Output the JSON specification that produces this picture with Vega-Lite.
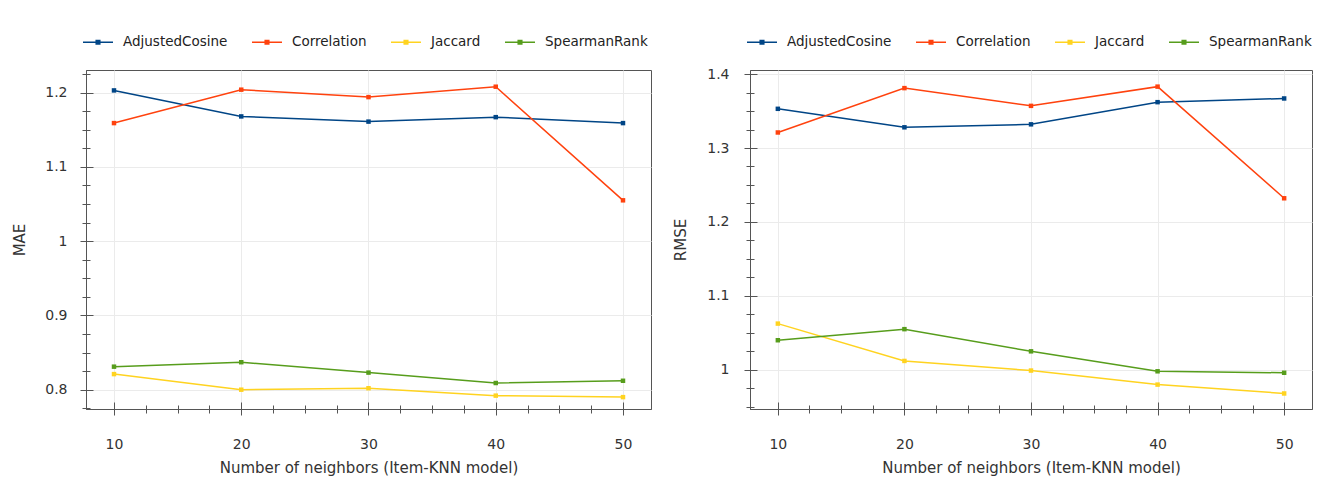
{
  "$schema": "https://vega.github.io/schema/vega-lite/v6.json",
  "padding": {"left": 12, "top": 25, "right": 8, "bottom": 4},
  "background": "white",
  "config": {
    "font": "DejaVu Sans",
    "view": {"stroke": "#555555", "strokeWidth": 1},
    "axis": {
      "labelFont": "DejaVu Sans", "labelFontSize": 14, "labelColor": "#333333",
      "titleFont": "DejaVu Sans", "titleFontSize": 15, "titleFontWeight": "normal", "titleColor": "#333333",
      "domainColor": "#555555", "tickColor": "#555555", "gridColor": "#ebebeb", "gridWidth": 1
    },
    "legend": {
      "orient": "none", "direction": "horizontal", "legendX": -4, "legendY": -44, "title": null,
      "symbolType": "M-1,0H1M-0.12,-0.12H0.12V0.12H-0.12Z", "symbolSize": 900, "symbolStrokeWidth": 1.5,
      "labelFont": "DejaVu Sans", "labelFontSize": 13.5, "labelColor": "#222222",
      "columnPadding": 21, "labelOffset": 9
    }
  },
  "datasets": {
    "mae": [
      {"k": 10, "s": "AdjustedCosine", "v": 1.203}, {"k": 20, "s": "AdjustedCosine", "v": 1.168}, {"k": 30, "s": "AdjustedCosine", "v": 1.161}, {"k": 40, "s": "AdjustedCosine", "v": 1.167}, {"k": 50, "s": "AdjustedCosine", "v": 1.159},
      {"k": 10, "s": "Correlation", "v": 1.159}, {"k": 20, "s": "Correlation", "v": 1.204}, {"k": 30, "s": "Correlation", "v": 1.194}, {"k": 40, "s": "Correlation", "v": 1.208}, {"k": 50, "s": "Correlation", "v": 1.055},
      {"k": 10, "s": "Jaccard", "v": 0.821}, {"k": 20, "s": "Jaccard", "v": 0.800}, {"k": 30, "s": "Jaccard", "v": 0.802}, {"k": 40, "s": "Jaccard", "v": 0.792}, {"k": 50, "s": "Jaccard", "v": 0.790},
      {"k": 10, "s": "SpearmanRank", "v": 0.831}, {"k": 20, "s": "SpearmanRank", "v": 0.837}, {"k": 30, "s": "SpearmanRank", "v": 0.823}, {"k": 40, "s": "SpearmanRank", "v": 0.809}, {"k": 50, "s": "SpearmanRank", "v": 0.812}
    ],
    "rmse": [
      {"k": 10, "s": "AdjustedCosine", "v": 1.353}, {"k": 20, "s": "AdjustedCosine", "v": 1.328}, {"k": 30, "s": "AdjustedCosine", "v": 1.332}, {"k": 40, "s": "AdjustedCosine", "v": 1.362}, {"k": 50, "s": "AdjustedCosine", "v": 1.367},
      {"k": 10, "s": "Correlation", "v": 1.321}, {"k": 20, "s": "Correlation", "v": 1.381}, {"k": 30, "s": "Correlation", "v": 1.357}, {"k": 40, "s": "Correlation", "v": 1.383}, {"k": 50, "s": "Correlation", "v": 1.232},
      {"k": 10, "s": "Jaccard", "v": 1.0625}, {"k": 20, "s": "Jaccard", "v": 1.012}, {"k": 30, "s": "Jaccard", "v": 0.999}, {"k": 40, "s": "Jaccard", "v": 0.980}, {"k": 50, "s": "Jaccard", "v": 0.968},
      {"k": 10, "s": "SpearmanRank", "v": 1.040}, {"k": 20, "s": "SpearmanRank", "v": 1.055}, {"k": 30, "s": "SpearmanRank", "v": 1.025}, {"k": 40, "s": "SpearmanRank", "v": 0.998}, {"k": 50, "s": "SpearmanRank", "v": 0.996}
    ]
  },
  "spacing": 21,
  "resolve": {"legend": {"color": "independent"}},
  "hconcat": [
    {
      "width": 565, "height": 339,
      "data": {"name": "mae"},
      "resolve": {"axis": {"x": "independent", "y": "independent"}},
      "layer": [
        {
          "mark": {"type": "line", "strokeWidth": 1.5, "point": {"shape": "square", "size": 20, "filled": true}},
          "encoding": {
            "x": {"field": "k", "type": "quantitative", "scale": {"domain": [7.8, 52.2], "nice": false, "zero": false},
                  "axis": {"orient": "bottom", "values": [10, 20, 30, 40, 50], "title": "Number of neighbors (Item-KNN model)", "tickSize": 6, "labelFontSize": 14, "labelPadding": 22, "titlePadding": 9, "grid": true}},
            "y": {"field": "v", "type": "quantitative", "scale": {"domain": [0.774, 1.2305], "nice": false, "zero": false},
                  "axis": {"orient": "left", "values": [0.8, 0.9, 1, 1.1, 1.2], "format": "~g", "title": "MAE", "tickSize": 6, "labelFontSize": 14, "labelPadding": 13, "titlePadding": 17, "grid": true}},
            "color": {"field": "s", "type": "nominal", "scale": {"domain": ["AdjustedCosine", "Correlation", "Jaccard", "SpearmanRank"], "range": ["#004586", "#ff420e", "#ffd320", "#579d1c"]}}
          }
        },
        {
          "mark": {"type": "line", "strokeOpacity": 0},
          "encoding": {
            "x": {"field": "k", "type": "quantitative", "scale": {"domain": [7.8, 52.2], "nice": false, "zero": false},
                  "axis": {"orient": "bottom", "values": [10, 20, 30, 40, 50], "title": null, "labels": false, "domain": false, "grid": false, "tickSize": -7}},
            "y": {"field": "v", "type": "quantitative", "scale": {"domain": [0.774, 1.2305], "nice": false, "zero": false},
                  "axis": {"orient": "left", "values": [0.8, 0.9, 1, 1.1, 1.2], "title": null, "labels": false, "domain": false, "grid": false, "tickSize": -7}},
            "detail": {"field": "s"}
          }
        },
        {
          "mark": {"type": "line", "strokeOpacity": 0},
          "encoding": {
            "x": {"field": "k", "type": "quantitative", "scale": {"domain": [7.8, 52.2], "nice": false, "zero": false},
                  "axis": {"orient": "bottom", "values": [12.5, 15, 17.5, 22.5, 25, 27.5, 32.5, 35, 37.5, 42.5, 45, 47.5], "title": null, "labels": false, "domain": false, "grid": false, "tickSize": 4}},
            "y": {"field": "v", "type": "quantitative", "scale": {"domain": [0.774, 1.2305], "nice": false, "zero": false},
                  "axis": {"orient": "left", "values": [0.775, 0.825, 0.85, 0.875, 0.925, 0.95, 0.975, 1.025, 1.05, 1.075, 1.125, 1.15, 1.175, 1.225], "title": null, "labels": false, "domain": false, "grid": false, "tickSize": 4}},
            "detail": {"field": "s"}
          }
        },
        {
          "mark": {"type": "line", "strokeOpacity": 0},
          "encoding": {
            "x": {"field": "k", "type": "quantitative", "scale": {"domain": [7.8, 52.2], "nice": false, "zero": false},
                  "axis": {"orient": "bottom", "values": [12.5, 15, 17.5, 22.5, 25, 27.5, 32.5, 35, 37.5, 42.5, 45, 47.5], "title": null, "labels": false, "domain": false, "grid": false, "tickSize": -4}},
            "y": {"field": "v", "type": "quantitative", "scale": {"domain": [0.774, 1.2305], "nice": false, "zero": false},
                  "axis": {"orient": "left", "values": [0.775, 0.825, 0.85, 0.875, 0.925, 0.95, 0.975, 1.025, 1.05, 1.075, 1.125, 1.15, 1.175, 1.225], "title": null, "labels": false, "domain": false, "grid": false, "tickSize": -4}},
            "detail": {"field": "s"}
          }
        }
      ]
    },
    {
      "width": 562, "height": 339,
      "data": {"name": "rmse"},
      "resolve": {"axis": {"x": "independent", "y": "independent"}},
      "layer": [
        {
          "mark": {"type": "line", "strokeWidth": 1.5, "point": {"shape": "square", "size": 20, "filled": true}},
          "encoding": {
            "x": {"field": "k", "type": "quantitative", "scale": {"domain": [7.8, 52.2], "nice": false, "zero": false},
                  "axis": {"orient": "bottom", "values": [10, 20, 30, 40, 50], "title": "Number of neighbors (Item-KNN model)", "tickSize": 6, "labelFontSize": 14, "labelPadding": 22, "titlePadding": 9, "grid": true}},
            "y": {"field": "v", "type": "quantitative", "scale": {"domain": [0.947, 1.4055], "nice": false, "zero": false},
                  "axis": {"orient": "left", "values": [1, 1.1, 1.2, 1.3, 1.4], "format": "~g", "title": "RMSE", "tickSize": 6, "labelFontSize": 14, "labelPadding": 15, "titlePadding": 18, "grid": true}},
            "color": {"field": "s", "type": "nominal", "scale": {"domain": ["AdjustedCosine", "Correlation", "Jaccard", "SpearmanRank"], "range": ["#004586", "#ff420e", "#ffd320", "#579d1c"]}}
          }
        },
        {
          "mark": {"type": "line", "strokeOpacity": 0},
          "encoding": {
            "x": {"field": "k", "type": "quantitative", "scale": {"domain": [7.8, 52.2], "nice": false, "zero": false},
                  "axis": {"orient": "bottom", "values": [10, 20, 30, 40, 50], "title": null, "labels": false, "domain": false, "grid": false, "tickSize": -7}},
            "y": {"field": "v", "type": "quantitative", "scale": {"domain": [0.947, 1.4055], "nice": false, "zero": false},
                  "axis": {"orient": "left", "values": [1, 1.1, 1.2, 1.3, 1.4], "title": null, "labels": false, "domain": false, "grid": false, "tickSize": -7}},
            "detail": {"field": "s"}
          }
        },
        {
          "mark": {"type": "line", "strokeOpacity": 0},
          "encoding": {
            "x": {"field": "k", "type": "quantitative", "scale": {"domain": [7.8, 52.2], "nice": false, "zero": false},
                  "axis": {"orient": "bottom", "values": [12.5, 15, 17.5, 22.5, 25, 27.5, 32.5, 35, 37.5, 42.5, 45, 47.5], "title": null, "labels": false, "domain": false, "grid": false, "tickSize": 4}},
            "y": {"field": "v", "type": "quantitative", "scale": {"domain": [0.947, 1.4055], "nice": false, "zero": false},
                  "axis": {"orient": "left", "values": [0.95, 0.975, 1.025, 1.05, 1.075, 1.125, 1.15, 1.175, 1.225, 1.25, 1.275, 1.325, 1.35, 1.375], "title": null, "labels": false, "domain": false, "grid": false, "tickSize": 4}},
            "detail": {"field": "s"}
          }
        },
        {
          "mark": {"type": "line", "strokeOpacity": 0},
          "encoding": {
            "x": {"field": "k", "type": "quantitative", "scale": {"domain": [7.8, 52.2], "nice": false, "zero": false},
                  "axis": {"orient": "bottom", "values": [12.5, 15, 17.5, 22.5, 25, 27.5, 32.5, 35, 37.5, 42.5, 45, 47.5], "title": null, "labels": false, "domain": false, "grid": false, "tickSize": -4}},
            "y": {"field": "v", "type": "quantitative", "scale": {"domain": [0.947, 1.4055], "nice": false, "zero": false},
                  "axis": {"orient": "left", "values": [0.95, 0.975, 1.025, 1.05, 1.075, 1.125, 1.15, 1.175, 1.225, 1.25, 1.275, 1.325, 1.35, 1.375], "title": null, "labels": false, "domain": false, "grid": false, "tickSize": -4}},
            "detail": {"field": "s"}
          }
        }
      ]
    }
  ]
}
